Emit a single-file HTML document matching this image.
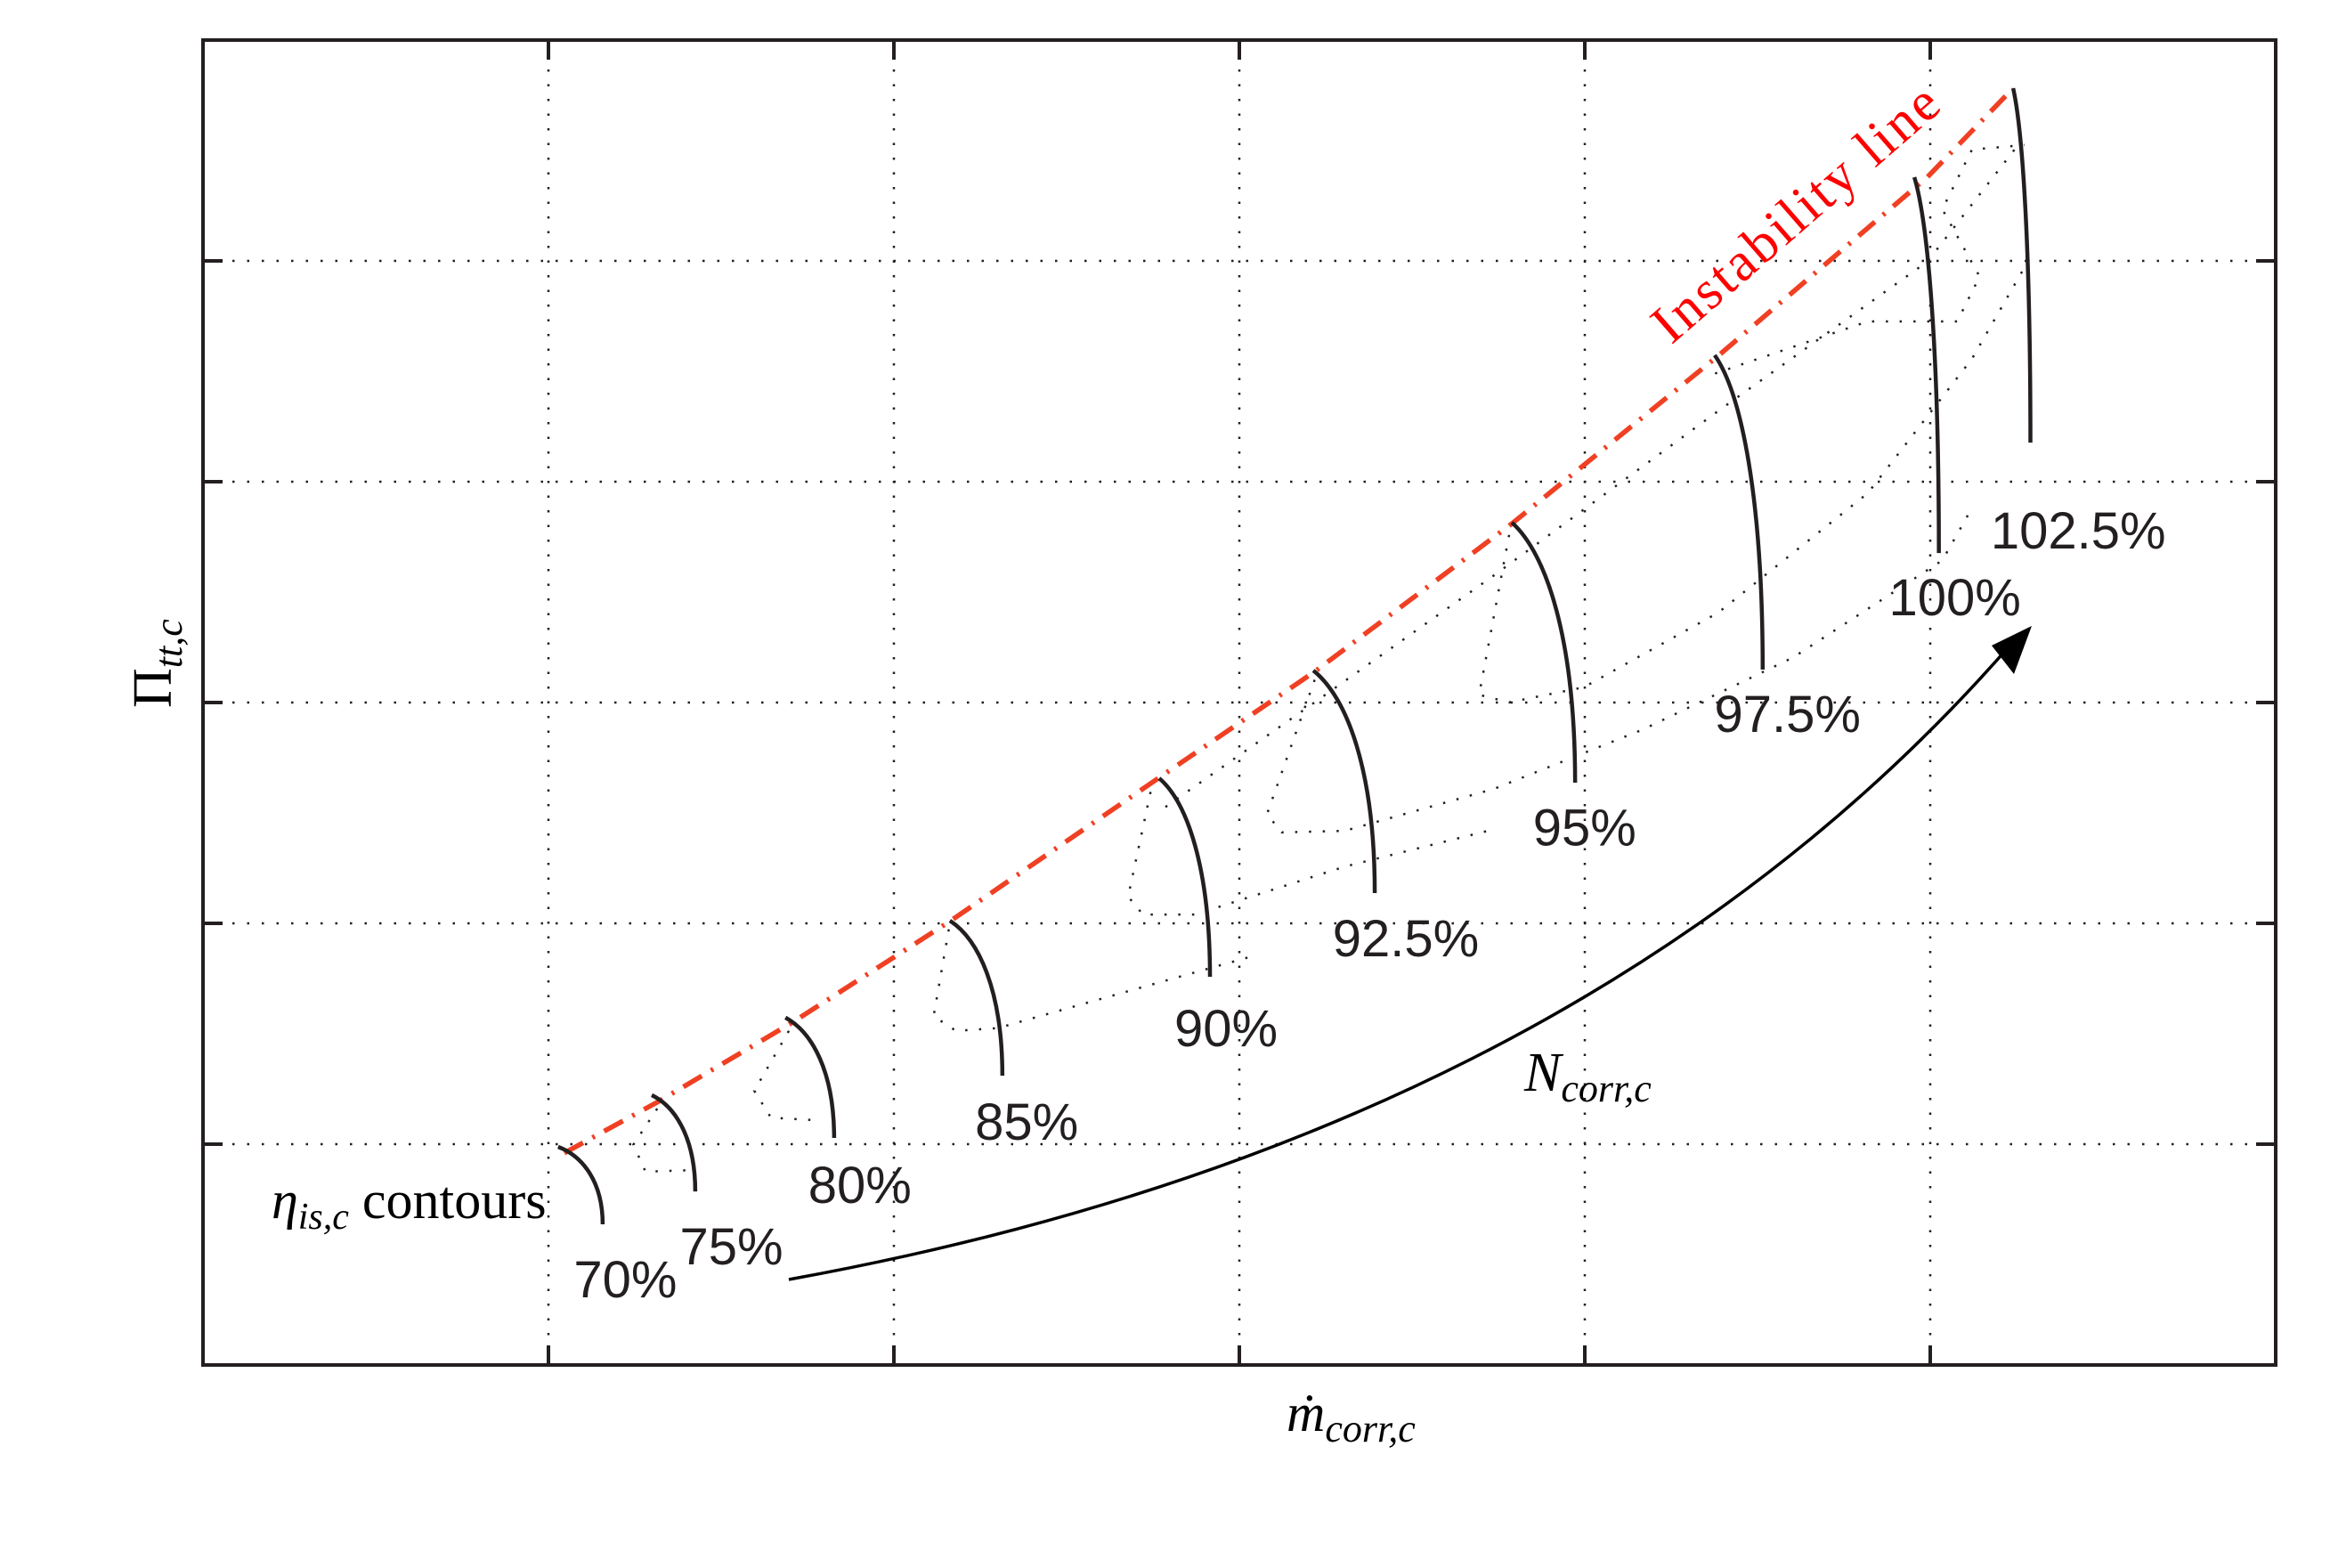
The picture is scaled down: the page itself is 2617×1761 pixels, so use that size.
<!DOCTYPE html>
<html><head><meta charset="utf-8"><style>
html,body{margin:0;padding:0;background:#fff;}
svg{display:block;}
</style></head><body>
<svg id="chart" width="2617" height="1761" viewBox="0 0 2617 1761" xmlns="http://www.w3.org/2000/svg">
<rect x="0" y="0" width="2617" height="1761" fill="#fff"/>
<g id="grid"></g>
<g id="dotted"></g>
<g id="instab"></g>
<g id="contours"></g>
<g id="labels"></g>
<rect x="228" y="45" width="2328" height="1488" fill="none" stroke="#231f20" stroke-width="4"/>
<g id="ticks"></g>
<path d="M 886 1437 Q 1779 1275 2260 722" fill="none" stroke="#000" stroke-width="3.5"/>
<polygon points="2282,703 2237,725 2262,757" fill="#000"/>
<text x="1712" y="1225" font-family="Liberation Serif, serif" font-style="italic" font-size="62" fill="#000">N<tspan font-size="44" dy="12">corr,c</tspan></text>
<text x="305" y="1368" font-family="Liberation Serif, serif" font-size="60" fill="#000"><tspan font-style="italic">η</tspan><tspan font-style="italic" font-size="42" dy="12">is,c</tspan><tspan dy="-12"> contours</tspan></text>
<text x="2030" y="255" text-anchor="middle" font-family="Liberation Serif, serif" font-size="62" fill="#f00" transform="rotate(-41 2030 255)" textLength="405">Instability line</text>
<text x="1445" y="1607" font-family="Liberation Serif, serif" font-style="italic" font-size="60" fill="#000">ṁ<tspan font-size="44" dy="12">corr,c</tspan></text>
<text x="0" y="0" font-family="Liberation Serif, serif" font-size="62" fill="#000" transform="translate(192 795) rotate(-90)">Π<tspan font-style="italic" font-size="44" dy="12">tt,c</tspan></text>
</svg>
<script>
// axes: data units 0..6 in both directions
const xTicks = [1, 2, 3, 4, 5];
const yTicks = [1, 2, 3, 4, 5];
// instability (surge) line
const surgeX = [1.046, 1.315, 1.705, 2.163, 2.768, 3.218, 3.789, 4.386, 4.992, 5.240];
const surgeY = [0.96, 1.19, 1.55, 2.01, 2.66, 3.14, 3.81, 4.57, 5.38, 5.782];
// efficiency contour segments
const contourLevels = ["70%", "75%", "80%", "85%", "90%", "92.5%", "95%", "97.5%", "100%", "102.5%"];
const startX = [1.028, 1.299, 1.686, 2.162, 2.768, 3.214, 3.789, 4.376, 4.954, 5.240];
const startY = [0.988, 1.222, 1.573, 2.012, 2.657, 3.145, 3.815, 4.573, 5.379, 5.782];
const endX = [1.157, 1.425, 1.827, 2.314, 2.915, 3.392, 3.972, 4.515, 5.025, 5.290];
const endY = [0.637, 0.786, 1.028, 1.310, 1.758, 2.137, 2.637, 3.149, 3.677, 4.177];
const labelX = [1.073, 1.380, 1.752, 2.235, 2.812, 3.270, 3.850, 4.375, 4.880, 5.175];
const labelY = [0.306, 0.456, 0.733, 1.020, 1.444, 1.851, 2.353, 2.867, 3.396, 3.698];
// dotted contour traces
const dot1X = [1.315, 1.246, 1.281, 1.428];
const dot1Y = [1.161, 0.998, 0.876, 0.883];
const dot2X = [1.696, 1.596, 1.644, 1.791];
const dot2Y = [1.513, 1.242, 1.120, 1.107];
const dot3X = [2.159, 2.115, 2.180, 2.301, 2.699, 3.037];
const dot3Y = [1.973, 1.580, 1.513, 1.526, 1.702, 1.851];
const dot4X = [2.743, 2.678, 2.721, 2.872, 3.305, 3.737];
const dot4Y = [2.595, 2.121, 2.040, 2.040, 2.257, 2.426];
const dot5X = [3.218, 3.080, 3.123, 3.305, 3.737, 4.170, 4.603, 5.035, 5.121];
const dot5Y = [3.103, 2.494, 2.412, 2.419, 2.609, 2.879, 3.204, 3.644, 3.881];
const dot6X = [3.781, 3.694, 3.781, 3.997, 4.386, 4.819, 5.121, 5.295];
const dot6Y = [3.759, 3.035, 3.001, 3.069, 3.407, 3.948, 4.557, 5.031];
const dot7X = [2.786, 3.218, 3.737, 4.386, 4.992, 5.251];
const dot7Y = [2.527, 3.001, 3.576, 4.320, 4.997, 5.518];
const dot8X = [4.377, 4.819, 5.078, 5.143, 5.035, 5.121, 5.273];
const dot8Y = [4.490, 4.726, 4.726, 4.929, 5.234, 5.504, 5.525];

const NS = "http://www.w3.org/2000/svg";
const L = 228, R = 2556, T = 45, B = 1533;
function sx(v){ return L + v * (R - L) / 6; }
function sy(v){ return B - v * (B - T) / 6; }
function mk(tag, attrs, parent){ const e = document.createElementNS(NS, tag); for (const k in attrs) e.setAttribute(k, attrs[k]); parent.appendChild(e); return e; }

const grid = document.getElementById('grid');
const ticks = document.getElementById('ticks');
xTicks.forEach(v => {
  const g = mk('line', {x1: sx(v), x2: sx(v), y1: T, y2: B, stroke: '#231f20', 'stroke-width': 2.5, 'stroke-dasharray': '2.5 14'}, grid);
  
  
  const t1 = mk('line', {x1: sx(v), x2: sx(v), y1: B, y2: B - 22, stroke: '#231f20', 'stroke-width': 4}, ticks);
  
  
  const t2 = mk('line', {x1: sx(v), x2: sx(v), y1: T, y2: T + 22, stroke: '#231f20', 'stroke-width': 4}, ticks);
  
  
});
yTicks.forEach(v => {
  const g = mk('line', {x1: L, x2: R, y1: sy(v), y2: sy(v), stroke: '#231f20', 'stroke-width': 2.5, 'stroke-dasharray': '2.5 14'}, grid);
  
  
  const t1 = mk('line', {x1: L, x2: L + 22, y1: sy(v), y2: sy(v), stroke: '#231f20', 'stroke-width': 4}, ticks);
  
  
  const t2 = mk('line', {x1: R, x2: R - 22, y1: sy(v), y2: sy(v), stroke: '#231f20', 'stroke-width': 4}, ticks);
  
  
});

// dotted contours
const dotted = document.getElementById('dotted');
[[dot1X, dot1Y], [dot2X, dot2Y], [dot3X, dot3Y], [dot4X, dot4Y], [dot5X, dot5Y], [dot6X, dot6Y], [dot7X, dot7Y], [dot8X, dot8Y]].forEach((p, i) => {
  const d = p[0].map((x, j) => (j ? 'L' : 'M') + sx(x).toFixed(1) + ' ' + sy(p[1][j]).toFixed(1)).join(' ');
  const e = mk('path', {d: d, fill: 'none', stroke: '#231f20', 'stroke-width': 2.5, 'stroke-dasharray': '2.5 13'}, dotted);
  
  
});

// instability line
const instab = document.getElementById('instab');
const sd = surgeX.map((x, j) => (j ? 'L' : 'M') + sx(x).toFixed(1) + ' ' + sy(surgeY[j]).toFixed(1)).join(' ');
const surge = mk('path', {d: sd, fill: 'none', stroke: '#f04023', 'stroke-width': 5.5, 'stroke-dasharray': '24 12 3 12'}, instab);



// contour segments and labels
const cg = document.getElementById('contours');
const lg = document.getElementById('labels');
contourLevels.forEach((lvl, i) => {
  const x0 = sx(startX[i]), y0 = sy(startY[i]), x1 = sx(endX[i]), y1 = sy(endY[i]);
  const dx = x1 - x0, dy = y1 - y0;
  const d = `M${x0} ${y0} C${x0 + 0.55 * dx} ${y0 + 0.12 * dy} ${x1} ${y0 + 0.45 * dy} ${x1} ${y1}`;
  const p = mk('path', {d: d, fill: 'none', stroke: '#231f20', 'stroke-width': 4.5}, cg);
  
  
  const t = mk('text', {x: sx(labelX[i]), y: sy(labelY[i]), 'font-family': 'Liberation Sans, sans-serif', 'font-size': 58, fill: '#231f20'}, lg);
  t.textContent = lvl;
  
  
});
</script>
</body></html>
